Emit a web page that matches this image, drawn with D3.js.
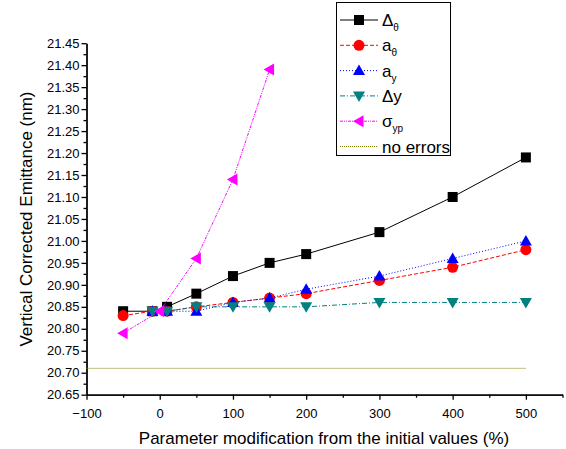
<!DOCTYPE html>
<html>
<head>
<meta charset="utf-8">
<script src="https://cdn.jsdelivr.net/npm/d3@7"></script>
<style>
  body { margin: 0; background: #fff; }
  text { font-family: "Liberation Sans", Arial, sans-serif; }
</style>
</head>
<body>
<div id="chart"></div>
<script>
// data
const dThetaX = [-50, -10, 10, 50, 100, 150, 200, 300, 400, 500];
const dThetaY = [20.84, 20.84, 20.85, 20.88, 20.92, 20.95, 20.97, 21.02, 21.10, 21.19];
const aThetaX = [-50, -10, 10, 50, 100, 150, 200, 300, 400, 500];
const aThetaY = [20.83, 20.84, 20.84, 20.85, 20.86, 20.87, 20.88, 20.91, 20.94, 20.98];
const aYX = [-10, 10, 50, 100, 150, 200, 300, 400, 500];
const aYY = [20.84, 20.84, 20.84, 20.86, 20.87, 20.89, 20.92, 20.96, 21.00];
const dYX = [-10, 10, 50, 100, 150, 200, 300, 400, 500];
const dYY = [20.84, 20.84, 20.85, 20.85, 20.85, 20.85, 20.86, 20.86, 20.86];
const sigmaX = [-50, 0, 50, 100, 150];
const sigmaY = [20.79, 20.84, 20.96, 21.14, 21.39];
const noErrorsX = [-100, 500];
const noErrorsY = [20.71, 20.71];

const xTicks = [-100, 0, 100, 200, 300, 400, 500];
const yTicks = d3.range(0, 17).map(i => +(20.65 + i * 0.05).toFixed(2));

const width = 566, height = 449;

const svg = d3.select('#chart').append('svg')
    .attr('width', width)
    .attr('height', height);

const x = d3.scaleLinear().domain([-100, 550]).range([86.5, 562.5]);
const y = d3.scaleLinear().domain([20.65, 21.45]).range([394.7, 43.2]);

// triangle marker paths
function tri(dir, s) {
    if (dir === 'up') return `M0,${-s}L${s},${s * 0.75}L${-s},${s * 0.75}Z`;
    if (dir === 'down') return `M0,${s}L${s},${-s * 0.75}L${-s},${-s * 0.75}Z`;
    return `M${-s},0L${s * 0.75},${-s}L${s * 0.75},${s}Z`;
}

const series = [
    { name: 'dTheta', xs: dThetaX, ys: dThetaY, color: '#000000', dash: null, marker: 'square' },
    { name: 'aTheta', xs: aThetaX, ys: aThetaY, color: '#ff0000', dash: '4,2', marker: 'circle' },
    { name: 'aY', xs: aYX, ys: aYY, color: '#0000ff', dash: '1,2', marker: 'up' },
    { name: 'dY', xs: dYX, ys: dYY, color: '#008080', dash: '5,2,1,2', marker: 'down' },
    { name: 'sigma', xs: sigmaX, ys: sigmaY, color: '#ff00ff', dash: '3,1,1,1,1,1', marker: 'left' }
];

function drawMarker(g, type, color) {
    if (type === 'square') {
        g.append('rect').attr('x', -5).attr('y', -5).attr('width', 10).attr('height', 10).attr('fill', color);
    } else if (type === 'circle') {
        g.append('circle').attr('r', 5.5).attr('fill', color);
    } else {
        g.append('path').attr('d', tri(type, 6)).attr('fill', color);
    }
}

// axes
const xAxis = d3.axisBottom(x).tickValues(xTicks).tickSize(5).tickSizeOuter(0).tickFormat(d3.format('d'));
const xMinor = d3.axisBottom(x).tickValues(d3.range(-50, 551, 100)).tickSize(3).tickSizeOuter(0).tickFormat('');
const yAxis = d3.axisLeft(y).tickValues(yTicks).tickSize(5).tickSizeOuter(0).tickFormat(d3.format('.2f'));
const yMinor = d3.axisLeft(y).tickValues(d3.range(0, 16).map(i => 20.675 + i * 0.05)).tickSize(3).tickSizeOuter(0).tickFormat('');

function styleAxis(g) {
    g.selectAll('path, line').attr('stroke', '#000').attr('stroke-width', 1.3);
    g.selectAll('text').attr('fill', '#000').style('font-size', '13px')
        .style('font-family', '"Liberation Sans", Arial, sans-serif');
}

svg.append('g').attr('transform', `translate(0,${y.range()[0]})`).call(xMinor).call(styleAxis);
svg.append('g').attr('transform', `translate(0,${y.range()[0]})`).call(xAxis).call(styleAxis)
    .selectAll('text').attr('dy', '1.2em');
svg.append('g').attr('transform', `translate(${x.range()[0]},0)`).call(yMinor).call(styleAxis);
svg.append('g').attr('transform', `translate(${x.range()[0]},0)`).call(yAxis).call(styleAxis)
    .selectAll('text').attr('x', -7);

// axis titles
svg.append('text')
    .attr('x', 324).attr('y', 444)
    .attr('text-anchor', 'middle')
    .style('font-size', '17px')
    .text('Parameter modification from the initial values (%)');

svg.append('text')
    .attr('transform', 'translate(32,219) rotate(-90)')
    .attr('text-anchor', 'middle')
    .style('font-size', '17px')
    .text('Vertical Corrected Emittance (nm)');

// no errors reference line
const line = d3.line().x(d => x(d[0])).y(d => y(d[1]));
svg.append('path')
    .datum(d3.zip(noErrorsX, noErrorsY))
    .attr('d', line)
    .attr('fill', 'none')
    .attr('stroke', '#808000')
    .attr('stroke-width', 1)
    .attr('stroke-dasharray', '1,1');

// series lines + markers
series.forEach(s => {
    const pts = d3.zip(s.xs, s.ys);
    svg.append('path')
        .datum(pts)
        .attr('d', line)
        .attr('fill', 'none')
        .attr('stroke', s.color)
        .attr('stroke-width', 1)
        .attr('stroke-dasharray', s.dash);
    pts.forEach(p => {
        const g = svg.append('g').attr('transform', `translate(${x(p[0])},${y(p[1])})`);
        drawMarker(g, s.marker, s.color);
    });
});

// legend
const legend = svg.append('g');
legend.append('rect')
    .attr('x', 336.5).attr('y', 2.5).attr('width', 114).attr('height', 153)
    .attr('fill', '#fff').attr('stroke', '#000').attr('stroke-width', 1);

const legendItems = [
    { main: 'Δ', sub: 'θ', s: series[0] },
    { main: 'a', sub: 'θ', s: series[1] },
    { main: 'a', sub: 'y', s: series[2] },
    { main: 'Δy', sub: '', s: series[3] },
    { main: 'σ', sub: 'yp', s: series[4] },
    { main: 'no errors', sub: '', s: { color: '#808000', dash: '1,1', marker: null } }
];

legendItems.forEach((d, i) => {
    const ly = 20 + i * 25.3;
    const g = legend.append('g');
    g.append('line')
        .attr('x1', 340).attr('x2', 378).attr('y1', ly).attr('y2', ly)
        .attr('stroke', d.s.color).attr('stroke-width', 1)
        .attr('stroke-dasharray', d.s.dash);
    if (d.s.marker) {
        const m = g.append('g').attr('transform', `translate(359,${ly})`);
        drawMarker(m, d.s.marker, d.s.color);
    }
    const t = g.append('text')
        .attr('x', 382).attr('y', ly + 6)
        .style('font-size', '17px');
    t.append('tspan').text(d.main);
    if (d.sub) {
        t.append('tspan').attr('dy', 5).style('font-size', '10px').text(d.sub);
    }
});
</script>
</body>
</html>
